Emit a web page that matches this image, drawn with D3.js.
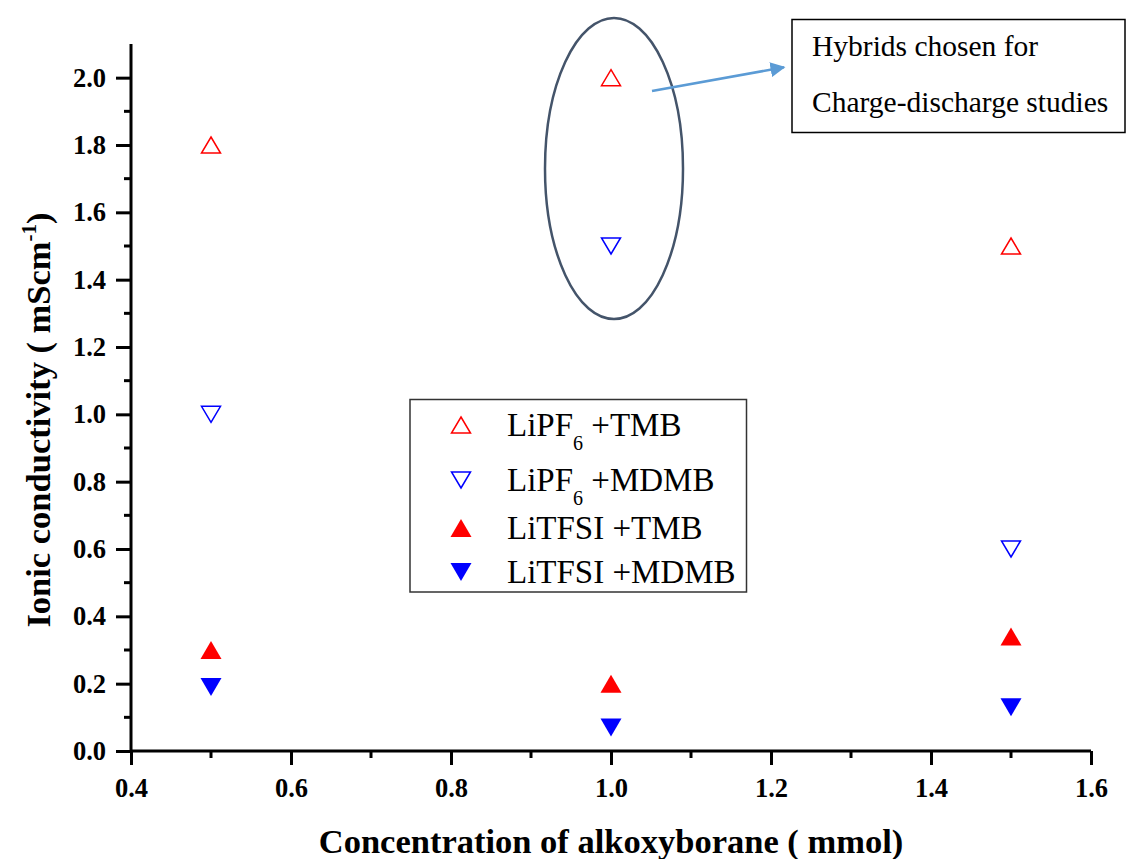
<!DOCTYPE html>
<html><head><meta charset="utf-8">
<script src="https://cdn.jsdelivr.net/npm/d3@7"></script>
<style>body{margin:0;background:#fff}svg{display:block}
svg text{font-family:"Liberation Serif","Times New Roman",Times,serif;}
</style>
</head><body>
<svg id="chart" width="1126" height="859"></svg>
<script>
const xVals = [0.5, 1.0, 1.5];
const lipf6TMB = [1.8, 2.0, 1.5];
const lipf6MDMB = [1.0, 1.5, 0.6];
const litfsiTMB = [0.3, 0.2, 0.34];
const litfsiMDMB = [0.19, 0.07, 0.13];
const xTicks = [0.4, 0.6, 0.8, 1.0, 1.2, 1.4, 1.6];
const yTicks = [0.0, 0.2, 0.4, 0.6, 0.8, 1.0, 1.2, 1.4, 1.6, 1.8, 2.0];
const seriesNames = ["LiPF6 +TMB", "LiPF6 +MDMB", "LiTFSI +TMB", "LiTFSI +MDMB"];
const highlightX = 1.0;
const annotationLines = ["Hybrids chosen for", "Charge-discharge studies"];

const series = [
  {name: seriesNames[0], values: lipf6TMB, dir: "up", fill: false, color: "#ff0000"},
  {name: seriesNames[1], values: lipf6MDMB, dir: "down", fill: false, color: "#0000ff"},
  {name: seriesNames[2], values: litfsiTMB, dir: "up", fill: true, color: "#ff0000"},
  {name: seriesNames[3], values: litfsiMDMB, dir: "down", fill: true, color: "#0000ff"}
];

const svg = d3.select("#chart");
const x = d3.scaleLinear().domain([0.4, 1.6]).range([131, 1091]);
const y = d3.scaleLinear().domain([0, 2.1]).range([751, 44]);

function tri(dir, w, h) {
  const s = dir === "up" ? 1 : -1;
  return `M0,${-s*h/2}L${w/2},${s*h/2}L${-w/2},${s*h/2}Z`;
}

// axes
const xAxis = d3.axisBottom(x).tickValues(xTicks).tickFormat(d3.format(".1f")).tickSize(14).tickPadding(6);
const yAxis = d3.axisLeft(y).tickValues(yTicks).tickFormat(d3.format(".1f")).tickSize(15).tickPadding(10);
const gx = svg.append("g").attr("transform", `translate(0,${y(0)})`).call(xAxis);
const gy = svg.append("g").attr("transform", `translate(${x(0.4)},0)`).call(yAxis);
[gx, gy].forEach(g => {
  g.attr("font-family", null).attr("font-size", null);
  g.select(".domain").attr("stroke", "#000").attr("stroke-width", 3);
  g.selectAll(".tick line").attr("stroke", "#000").attr("stroke-width", 3);
  g.selectAll(".tick text").style("font-weight", "bold").style("font-size", "26.5px").attr("fill", "#000");
});
gx.selectAll(".tick text").attr("y", 46).attr("dy", 0);
gy.select(".domain").attr("d", `M0,${y(2.1)}V${y(0)}`);
gx.select(".domain").attr("d", `M${x(0.4)},0H${x(1.6)}`);
// minor ticks
const xMinor = d3.range(0.5, 1.6, 0.2);
svg.append("g").selectAll("line").data(xMinor).join("line")
  .attr("x1", d => x(d)).attr("x2", d => x(d)).attr("y1", y(0)).attr("y2", y(0) + 7)
  .attr("stroke", "#000").attr("stroke-width", 3);
const yMinor = d3.range(0.1, 2.1, 0.2);
svg.append("g").selectAll("line").data(yMinor).join("line")
  .attr("y1", d => y(d)).attr("y2", d => y(d)).attr("x1", x(0.4)).attr("x2", x(0.4) - 7)
  .attr("stroke", "#000").attr("stroke-width", 3);

// axis titles
svg.append("text").attr("x", 611).attr("y", 853).attr("text-anchor", "middle")
  .style("font-weight", "bold").style("font-size", "34.5px")
  .text("Concentration of alkoxyborane ( mmol)");
const yt = svg.append("text").attr("transform", "translate(50,420) rotate(-90)").attr("text-anchor", "middle")
  .style("font-weight", "bold").style("font-size", "34.5px");
yt.append("tspan").text("Ionic conductivity ( mScm");
yt.append("tspan").attr("dy", -14).style("font-size", "21px").text("-1");
yt.append("tspan").attr("dy", 14).text(")");

// markers
series.forEach(s => {
  svg.append("g").selectAll("path").data(s.values).join("path")
    .attr("transform", (d, i) => `translate(${x(xVals[i])},${y(d)})`)
    .attr("d", s.fill ? tri(s.dir, 21, 18) : tri(s.dir, 19, 16))
    .attr("fill", s.fill ? s.color : "none")
    .attr("stroke", s.color).attr("stroke-width", s.fill ? 0 : 1.5);
});

// ellipse around highlight
svg.append("ellipse").attr("cx", x(highlightX) + 3).attr("cy", 168.5).attr("rx", 69).attr("ry", 150.5)
  .attr("fill", "none").attr("stroke", "#44546a").attr("stroke-width", 2.5);

// arrow
const defs = svg.append("defs");
defs.append("marker").attr("id", "arr").attr("viewBox", "0 0 10 10").attr("refX", 9).attr("refY", 5)
  .attr("markerWidth", 6).attr("markerHeight", 6).attr("orient", "auto")
  .append("path").attr("d", "M0,0L10,5L0,10Z").attr("fill", "#5b9bd5");
svg.append("line").attr("x1", 652).attr("y1", 91).attr("x2", 784).attr("y2", 67.3)
  .attr("stroke", "#5b9bd5").attr("stroke-width", 2.5).attr("marker-end", "url(#arr)");

// annotation box
svg.append("rect").attr("x", 792).attr("y", 19.5).attr("width", 333).attr("height", 113)
  .attr("fill", "#fff").attr("stroke", "#000").attr("stroke-width", 1.5);
annotationLines.forEach((t, i) => {
  svg.append("text").attr("x", 812).attr("y", 56 + i * 56)
    .style("font-size", "29.5px").attr("fill", "#000").text(t);
});

// legend
const lg = svg.append("g");
lg.append("rect").attr("x", 410).attr("y", 399.5).attr("width", 336.5).attr("height", 192.5)
  .attr("fill", "#fff").attr("stroke", "#333").attr("stroke-width", 1.5);
const legRows = [425, 480, 528, 572];
series.forEach((s, i) => {
  lg.append("path").attr("transform", `translate(461,${legRows[i]})`)
    .attr("d", s.fill ? tri(s.dir, 21, 18) : tri(s.dir, 19, 16))
    .attr("fill", s.fill ? s.color : "none")
    .attr("stroke", s.color).attr("stroke-width", s.fill ? 0 : 1.5);
  const t = lg.append("text").attr("x", 507).attr("y", legRows[i] + 11)
    .style("font-size", "33px").attr("fill", "#000");
  const m = s.name.match(/^(LiPF)6( .*)$/);
  if (m) {
    t.append("tspan").text(m[1]);
    t.append("tspan").attr("dy", 14).style("font-size", "20px").text("6");
    t.append("tspan").attr("dy", -14).text(m[2]);
  } else {
    t.text(s.name);
  }
});
</script>
</body></html>
